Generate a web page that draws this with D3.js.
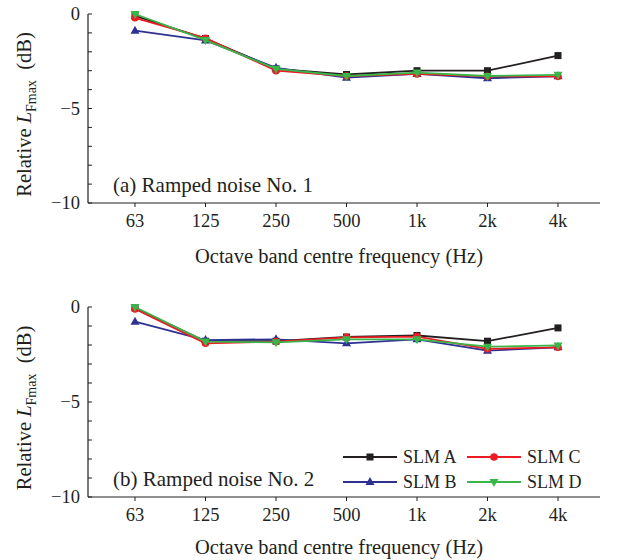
<!DOCTYPE html>
<html><head><meta charset="utf-8">
<script src="https://cdn.jsdelivr.net/npm/d3@7"></script>
<style>body{margin:0;background:#fff}svg{display:block}</style>
</head><body>
<script>
const bands = ["63","125","250","500","1k","2k","4k"];
const series = ["SLM A","SLM B","SLM C","SLM D"];
const colors = ["#231f20","#2e3192","#ed1c24","#39b54a"];
const shapes = ["square","triangle","circle","triangleDown"];
const yTicks = [0,-5,-10];
// Panel (a) Ramped noise No. 1
const a_A = [-0.1,-1.3,-2.9,-3.2,-3.0,-3.0,-2.2];
const a_B = [-0.88,-1.4,-2.85,-3.37,-3.17,-3.4,-3.3];
const a_C = [-0.2,-1.28,-3.0,-3.28,-3.17,-3.3,-3.3];
const a_D = [0,-1.38,-2.9,-3.28,-3.1,-3.28,-3.22];
// Panel (b) Ramped noise No. 2
const b_A = [-0.05,-1.8,-1.8,-1.58,-1.5,-1.8,-1.1];
const b_B = [-0.77,-1.74,-1.7,-1.91,-1.7,-2.3,-2.12];
const b_C = [-0.1,-1.91,-1.82,-1.6,-1.56,-2.2,-2.12];
const b_D = [0,-1.82,-1.86,-1.7,-1.7,-2.09,-2.02];

const panels = [
  {label:"(a) Ramped noise No. 1", data:[a_A,a_B,a_C,a_D], top:14, bottom:203, titleOff:60, legend:false},
  {label:"(b) Ramped noise No. 2", data:[b_A,b_B,b_C,b_D], top:307, bottom:497, titleOff:57, legend:true}
];

const W=624,H=560;
const svg=d3.select("body").append("svg").attr("width",W).attr("height",H)
  .style("font-family","'Liberation Serif','Times New Roman',serif").style("fill","#231f20");
const x=d3.scalePoint().domain(bands).range([135,558]);
const axL=88, axR=600;

function marker(g,shape,cx,cy,col){
  if(shape==="square") g.append("rect").attr("x",cx-3.5).attr("y",cy-3.5).attr("width",7).attr("height",7).attr("fill",col);
  else if(shape==="circle") g.append("circle").attr("cx",cx).attr("cy",cy).attr("r",3.8).attr("fill",col);
  else if(shape==="triangle") g.append("path").attr("d",`M${cx},${cy-5}L${cx+4.5},${cy+3}L${cx-4.5},${cy+3}Z`).attr("fill",col);
  else g.append("path").attr("d",`M${cx},${cy+5}L${cx+4.5},${cy-3}L${cx-4.5},${cy-3}Z`).attr("fill",col);
}

panels.forEach(p=>{
  const y=d3.scaleLinear().domain([-10,0]).range([p.bottom,p.top]);
  const g=svg.append("g");
  // y axis
  g.append("line").attr("x1",axL).attr("x2",axL).attr("y1",p.top).attr("y2",p.bottom).attr("stroke","#231f20").attr("stroke-width",1.2);
  d3.range(-10,1).forEach(v=>{
    g.append("line").attr("x1",axL).attr("x2",axL+4).attr("y1",y(v)).attr("y2",y(v)).attr("stroke","#231f20").attr("stroke-width",1);
  });
  yTicks.forEach(v=>{
    g.append("text").attr("x",axL-8).attr("y",y(v)).attr("dy","0.35em").attr("text-anchor","end")
      .attr("font-size",18.5).text(v===0?"0":"\u2212"+Math.abs(v));
  });
  // x axis
  g.append("line").attr("x1",axL).attr("x2",axR).attr("y1",p.bottom).attr("y2",p.bottom).attr("stroke","#231f20").attr("stroke-width",1.2);
  bands.forEach(b=>{
    g.append("line").attr("x1",x(b)).attr("x2",x(b)).attr("y1",p.bottom).attr("y2",p.bottom+4).attr("stroke","#231f20").attr("stroke-width",1);
    g.append("text").attr("x",x(b)).attr("y",p.bottom+24).attr("text-anchor","middle").attr("font-size",18.5).text(b);
  });
  g.append("text").attr("x",339).attr("y",p.bottom+p.titleOff).attr("text-anchor","middle").attr("font-size",20.5)
    .text("Octave band centre frequency (Hz)");
  // y title
  const cy=(p.top+p.bottom)/2+6;
  const t=g.append("text").attr("transform",`translate(31,${cy}) rotate(-90)`).attr("text-anchor","middle").attr("font-size",20.5);
  t.append("tspan").text("Relative ");
  t.append("tspan").attr("font-style","italic").text("L");
  t.append("tspan").attr("font-size",14).attr("dy",5).text("Fmax");
  t.append("tspan").attr("dy",-5).text("\u2002(dB)");
  // panel label
  g.append("text").attr("x",113).attr("y",p.bottom-11).attr("font-size",21).text(p.label);
  // lines
  const line=d3.line().x((d,i)=>x(bands[i])).y(d=>y(d));
  p.data.forEach((s,k)=>{
    g.append("path").attr("d",line(s)).attr("fill","none").attr("stroke",colors[k]).attr("stroke-width",1.8);
    s.forEach((v,i)=>marker(g,shapes[k],x(bands[i]),y(v),colors[k]));
  });
  if(p.legend){
    const lg=svg.append("g");
    const cols=[{lx:343,tx:403},{lx:467,tx:527}];
    const rows=[457,482];
    series.forEach((s,k)=>{
      const c=cols[Math.floor(k/2)], ry=rows[k%2];
      lg.append("line").attr("x1",c.lx).attr("x2",c.lx+54).attr("y1",ry).attr("y2",ry).attr("stroke",colors[k]).attr("stroke-width",1.8);
      marker(lg,shapes[k],c.lx+27,ry,colors[k]);
      lg.append("text").attr("x",c.tx).attr("y",ry).attr("dy","0.35em").attr("font-size",18).text(s);
    });
  }
});
</script>
</body></html>
